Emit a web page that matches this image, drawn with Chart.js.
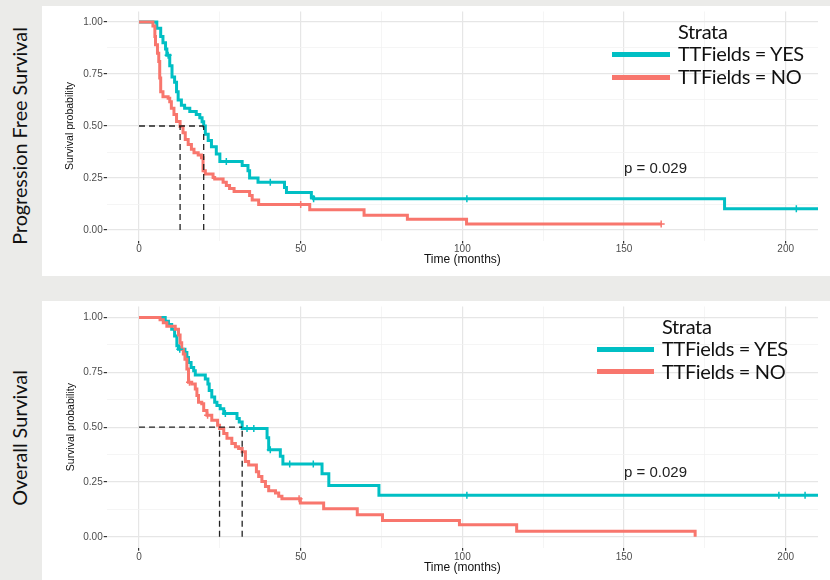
<!DOCTYPE html>
<html>
<head>
<meta charset="utf-8">
<script src="https://cdn.jsdelivr.net/npm/chart.js@4.4.1/dist/chart.umd.min.js"></script>
<style>
  body { margin: 0; width: 830px; height: 580px; background: #ebebe9; position: relative; overflow: hidden; font-family: "Liberation Sans", Arial, sans-serif; }
  .panel { position: absolute; left: 42px; width: 788px; background: #fff; }
  .panel canvas { position: absolute; left: 0; top: 0; }
  .side { position: absolute; font-family: Lato, sans-serif; font-size: 19.8px; color: #111; white-space: nowrap; transform: translate(-50%, -50%) rotate(-90deg); }
  .leg { position: absolute; font-family: Lato, sans-serif; font-size: 20px; line-height: 23px; letter-spacing: -0.35px; color: #111; white-space: nowrap; }
  .swatch { position: absolute; height: 5px; }
  .pval { position: absolute; font-size: 15px; line-height: 17px; color: #222; white-space: nowrap; }
</style>
</head>
<body>

<div class="side" style="left:19px; top:136px;">Progression Free Survival</div>
<div class="side" style="left:19px; top:438px;">Overall Survival</div>

<div class="panel" style="top:6px; height:270px;"><canvas id="pfsChart" width="788" height="270"></canvas></div>
<div class="panel" style="top:301px; height:279px;"><canvas id="osChart" width="788" height="279"></canvas></div>

<div class="leg" style="left:678px; top:20px;">Strata</div>
<div class="swatch" style="left:612px; top:52px; width:58px; background:#00BFC4;"></div>
<div class="leg" style="left:678px; top:42px;">TTFields = YES</div>
<div class="swatch" style="left:612px; top:75px; width:58px; background:#F8766D;"></div>
<div class="leg" style="left:678px; top:65px;">TTFields = NO</div>
<div class="pval" style="left:624px; top:159px;">p = 0.029</div>

<div class="leg" style="left:662px; top:315px;">Strata</div>
<div class="swatch" style="left:597px; top:347px; width:57px; background:#00BFC4;"></div>
<div class="leg" style="left:662px; top:337px;">TTFields = YES</div>
<div class="swatch" style="left:597px; top:369px; width:57px; background:#F8766D;"></div>
<div class="leg" style="left:662px; top:360px;">TTFields = NO</div>
<div class="pval" style="left:624px; top:463px;">p = 0.029</div>

<script>
// Progression free survival, TTFields = YES
const pfsYesTime = [0, 5.5, 6.7, 7.4, 8.2, 8.6, 9.5, 10.2, 11.0, 11.6, 12.1, 13.1, 14.1, 15.7, 17.7, 18.8, 19.5, 20.0, 20.5, 21.4, 22.4, 23.9, 25.0, 31.9, 33.7, 34.2, 36.8, 45.0, 45.6, 53.3, 54.0, 181.1, 210];
const pfsYesSurv = [1, 0.97, 0.93, 0.90, 0.87, 0.84, 0.79, 0.735, 0.71, 0.665, 0.625, 0.60, 0.585, 0.57, 0.555, 0.54, 0.52, 0.50, 0.46, 0.43, 0.40, 0.365, 0.33, 0.31, 0.285, 0.25, 0.23, 0.205, 0.18, 0.158, 0.15, 0.103, 0.103];
const pfsYesCensorTime = [9.0, 27.0, 40.6, 54.0, 101.4, 203.3];
const pfsYesCensorSurv = [0.84, 0.33, 0.23, 0.15, 0.15, 0.103];

// Progression free survival, TTFields = NO
const pfsNoTime = [0, 4.3, 4.9, 5.1, 5.7, 6.1, 6.4, 6.7, 7.4, 9.0, 9.5, 10.0, 10.8, 11.6, 12.7, 13.6, 14.3, 15.2, 16.2, 17.0, 18.3, 19.3, 19.8, 20.5, 22.9, 23.4, 26.0, 27.0, 28.0, 29.4, 34.2, 35.0, 37.0, 52.8, 69.6, 83.0, 101.3, 161.5];
const pfsNoSurv = [1, 0.98, 0.93, 0.89, 0.85, 0.81, 0.73, 0.665, 0.64, 0.633, 0.617, 0.585, 0.555, 0.522, 0.498, 0.467, 0.435, 0.411, 0.388, 0.372, 0.361, 0.348, 0.285, 0.269, 0.253, 0.245, 0.23, 0.214, 0.2, 0.185, 0.166, 0.145, 0.123, 0.098, 0.071, 0.052, 0.029, 0.029];
const pfsNoCensorTime = [50.0, 161.5];
const pfsNoCensorSurv = [0.123, 0.029];

const pfsMedians = [12.7, 20.0];

// Overall survival, TTFields = YES
const osYesTime = [0, 8.1, 9.1, 10.1, 11.0, 11.7, 12.2, 14.2, 14.8, 15.3, 16.1, 16.9, 17.4, 20.5, 21.3, 21.7, 22.5, 23.4, 24.1, 25.1, 26.2, 30.3, 31.0, 31.9, 39.6, 40.1, 43.7, 44.5, 56.6, 58.7, 74.2, 210];
const osYesSurv = [1, 0.983, 0.968, 0.946, 0.916, 0.871, 0.855, 0.84, 0.818, 0.795, 0.772, 0.757, 0.738, 0.72, 0.697, 0.667, 0.637, 0.614, 0.599, 0.584, 0.562, 0.539, 0.524, 0.494, 0.452, 0.397, 0.367, 0.332, 0.287, 0.234, 0.189, 0.189];
const osYesCensorTime = [12.6, 26.7, 33.4, 35.5, 40.6, 46.6, 53.9, 101.4, 197.9, 206.0];
const osYesCensorSurv = [0.855, 0.562, 0.494, 0.494, 0.397, 0.332, 0.332, 0.189, 0.189, 0.189];

// Overall survival, TTFields = NO
const osNoTime = [0, 6.5, 7.5, 8.6, 11.2, 12.2, 12.7, 13.2, 13.7, 14.2, 14.8, 15.3, 16.3, 17.4, 17.9, 18.4, 19.4, 20.0, 21.0, 22.5, 24.3, 24.9, 26.2, 27.2, 28.7, 29.8, 30.8, 31.9, 32.9, 33.9, 36.3, 37.0, 38.0, 39.1, 40.1, 42.2, 43.2, 44.2, 49.9, 57.1, 67.5, 75.3, 99.1, 116.8, 172.0];
const osNoSurv = [1, 0.99, 0.976, 0.96, 0.946, 0.92, 0.885, 0.855, 0.833, 0.81, 0.765, 0.705, 0.697, 0.674, 0.644, 0.614, 0.607, 0.576, 0.554, 0.531, 0.509, 0.494, 0.471, 0.449, 0.426, 0.411, 0.403, 0.388, 0.343, 0.328, 0.297, 0.275, 0.252, 0.23, 0.21, 0.2, 0.185, 0.174, 0.154, 0.128, 0.101, 0.075, 0.055, 0.025, 0];
const osNoCensorTime = [15.6, 21.2, 49.5];
const osNoCensorSurv = [0.705, 0.554, 0.174];

const osMedians = [24.9, 31.9];

// Axes
const xTicks = [0, 25, 50, 75, 100, 125, 150, 175, 200];
const yTicks = [0, 0.125, 0.25, 0.375, 0.5, 0.625, 0.75, 0.875, 1];

const yesColor = '#00BFC4';
const noColor = '#F8766D';

function toPoints(xs, ys) {
    return xs.map((x, i) => ({ x: x, y: ys[i] }));
}

// Step curve for one stratum
function curveDataset(xs, ys, color, order) {
    return {
        data: toPoints(xs, ys),
        showLine: true,
        stepped: true,
        borderColor: color,
        borderWidth: 3,
        pointRadius: 0,
        order: order
    };
}

// Censor "+" marks
function censorDataset(xs, ys, color) {
    return {
        data: toPoints(xs, ys),
        showLine: false,
        pointStyle: 'cross',
        pointRadius: 3.5,
        borderColor: color,
        borderWidth: 1.5,
        order: 1
    };
}

// Dashed median lines
function medianDatasets(medians) {
    const maxMed = Math.max(...medians);
    const sets = [[{ x: 0, y: 0.5 }, { x: maxMed, y: 0.5 }]];
    medians.forEach(m => sets.push([{ x: m, y: 0 }, { x: m, y: 0.5 }]));
    return sets.map(d => ({
        data: d,
        showLine: true,
        borderColor: '#222',
        borderWidth: 1.3,
        borderDash: [6, 4],
        pointRadius: 0,
        order: 0
    }));
}

function createChartConfig(datasets, box) {
    const isMajorX = v => v % 50 === 0;
    const isMajorY = v => Number.isInteger(v * 4);
    return {
        type: 'scatter',
        data: { datasets: datasets },
        options: {
            responsive: false,
            animation: false,
            layout: { padding: { left: 0, right: 12, top: box.top, bottom: 0 } },
            plugins: { legend: { display: false }, tooltip: { enabled: false } },
            scales: {
                x: {
                    type: 'linear',
                    min: -10,
                    max: 210,
                    bounds: 'data',
                    afterBuildTicks: axis => { axis.ticks = xTicks.map(v => ({ value: v })); },
                    afterFit: axis => {
                        axis.height = box.xHeight;
                        axis.paddingLeft = 0;
                        axis.paddingRight = 0;
                    },
                    border: { display: false },
                    grid: {
                        color: ctx => isMajorX(ctx.tick.value) ? '#e6e6e6' : '#f2f2f2',
                        lineWidth: ctx => isMajorX(ctx.tick.value) ? 1.2 : 0.8,
                        tickColor: ctx => isMajorX(ctx.tick.value) ? '#333' : 'rgba(0,0,0,0)',
                        tickLength: 3
                    },
                    ticks: {
                        padding: 0,
                        maxRotation: 0,
                        autoSkip: false,
                        color: '#4d4d4d',
                        font: { family: 'Liberation Sans', size: 10 },
                        callback: v => isMajorX(v) ? String(v) : ''
                    },
                    title: {
                        display: true,
                        text: 'Time (months)',
                        color: '#111',
                        font: { family: 'Liberation Sans', size: 12 },
                        padding: { top: 0, bottom: box.xTitlePad }
                    }
                },
                y: {
                    min: -0.05,
                    max: 1.05,
                    bounds: 'data',
                    afterBuildTicks: axis => { axis.ticks = yTicks.map(v => ({ value: v })); },
                    afterFit: axis => {
                        axis.width = 64.7;
                        axis.paddingTop = 0;
                        axis.paddingBottom = 0;
                    },
                    border: { display: false },
                    grid: {
                        color: ctx => isMajorY(ctx.tick.value) ? '#e6e6e6' : '#f2f2f2',
                        lineWidth: ctx => isMajorY(ctx.tick.value) ? 1.2 : 0.8,
                        tickColor: ctx => isMajorY(ctx.tick.value) ? '#333' : 'rgba(0,0,0,0)',
                        tickLength: 3
                    },
                    ticks: {
                        padding: 1,
                        autoSkip: false,
                        color: '#4d4d4d',
                        font: { family: 'Liberation Sans', size: 10 },
                        callback: v => isMajorY(v) ? v.toFixed(2) : ''
                    },
                    title: {
                        display: true,
                        text: 'Survival probability',
                        color: '#111',
                        font: { family: 'Liberation Sans', size: 10.5 },
                        padding: { top: box.yTitlePad, bottom: 0 }
                    }
                }
            }
        }
    };
}

const pfsDatasets = [
    ...medianDatasets(pfsMedians),
    censorDataset(pfsYesCensorTime, pfsYesCensorSurv, yesColor),
    censorDataset(pfsNoCensorTime, pfsNoCensorSurv, noColor),
    curveDataset(pfsNoTime, pfsNoSurv, noColor, 2),
    curveDataset(pfsYesTime, pfsYesSurv, yesColor, 3)
];

const osDatasets = [
    ...medianDatasets(osMedians),
    censorDataset(osYesCensorTime, osYesCensorSurv, yesColor),
    censorDataset(osNoCensorTime, osNoCensorSurv, noColor),
    curveDataset(osNoTime, osNoSurv, noColor, 2),
    curveDataset(osYesTime, osYesSurv, yesColor, 3)
];

const pfsChart = new Chart(document.getElementById('pfsChart').getContext('2d'),
    createChartConfig(pfsDatasets, { top: 2.8, xHeight: 35.5, xTitlePad: 9, yTitlePad: 21.5 }));
const osChart = new Chart(document.getElementById('osChart').getContext('2d'),
    createChartConfig(osDatasets, { top: 2.7, xHeight: 32.2, xTitlePad: 5.5, yTitlePad: 22.5 }));
</script>
</body>
</html>
